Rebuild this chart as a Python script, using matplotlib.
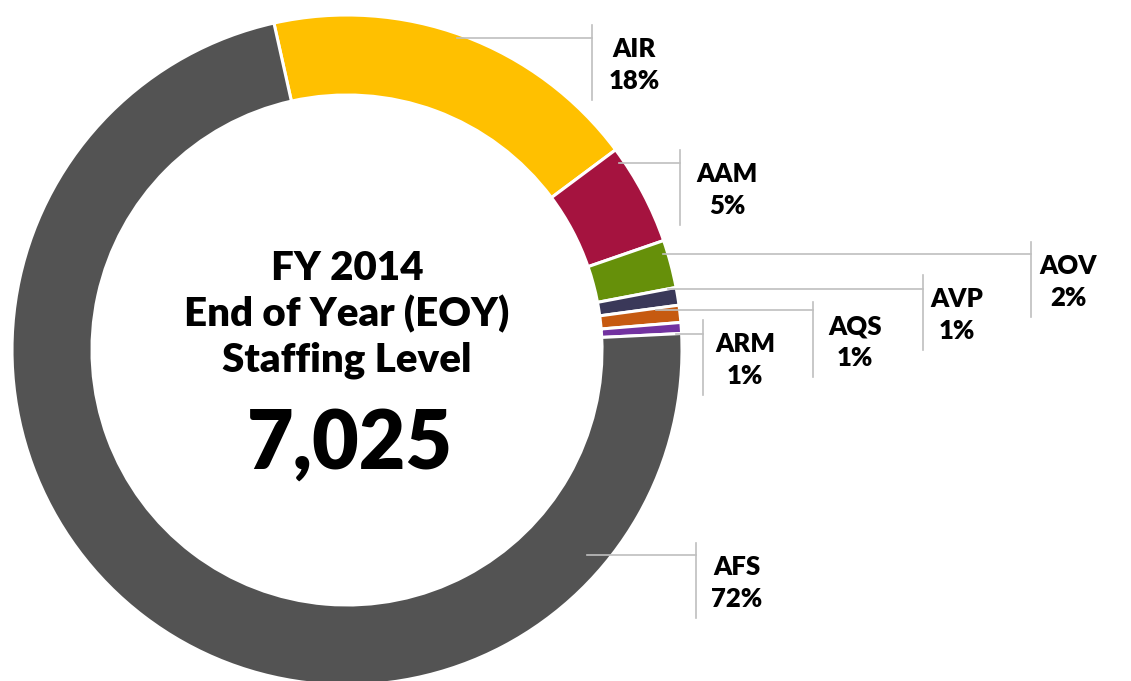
import matplotlib.pyplot as plt

# staffing by office, FY 2014 end of year
offices = ["AIR", "AAM", "AOV", "AVP", "AQS", "ARM", "AFS"]
staff = [1286, 344, 162, 60, 58, 37, 5078]
colors = ["#FFC000", "#A5133F", "#66900A", "#3A3859", "#C65A11", "#7232A0", "#535353"]

title_lines = ["FY 2014", "End of Year (EOY)", "Staffing Level"]

W, H = 1131, 681


def py(y):
    # picture y (top down) -> axes y
    return H - y


# label layout: leader start x, leader y, box line x, box top, text centre x
layout = {
    "AIR": (457, 38, 592, 25, 634),
    "AAM": (619, 163, 680, 150, 727),
    "AOV": (663, 254, 1031, 242, 1068),
    "AVP": (668, 289, 923, 275, 957),
    "AQS": (656, 310, 813, 302, 855),
    "ARM": (676, 334, 703, 320, 745),
    "AFS": (587, 555, 696, 543, 737),
}

plt.rcParams['font.family'] = ['Lato', 'DejaVu Sans']

fig = plt.figure(figsize=(W / 100, H / 100), dpi=100)
ax = fig.add_axes([0, 0, 1, 1])

ax.pie(staff, colors=colors, startangle=102.6, counterclock=False,
       center=(347, py(350)), radius=335,
       wedgeprops=dict(width=80, edgecolor='white', linewidth=2.2))

# pie() resets the limits, so set them afterwards
ax.set_xlim(0, W)
ax.set_ylim(0, H)
ax.set_aspect('equal')
ax.axis('off')

total = sum(staff)
gray = "#BFBFBF"
for name, val in zip(offices, staff):
    x0, ly, bx, btop, tx = layout[name]
    pct = round(val / total * 100)
    ax.plot([x0, bx], [py(ly), py(ly)], color=gray, lw=1.2, zorder=3)
    ax.plot([bx, bx], [py(btop), py(btop + 75)], color=gray, lw=1.2, zorder=3)
    ax.text(tx, py(btop + 24), name, ha='center', va='center',
            fontsize=18.5, fontweight='heavy', color='black')
    ax.text(tx, py(btop + 56), f"{pct}%", ha='center', va='center',
            fontsize=18.5, fontweight='heavy', color='black')

for i, line in enumerate(title_lines):
    ax.text(347, py(268 + i * 46), line, ha='center', va='center',
            fontsize=29, fontweight='heavy', color='black')
ax.text(350, py(445), f"{total:,}", ha='center', va='center',
        fontsize=58, fontweight='heavy', color='black')

fig.savefig("out.png", dpi=100)
